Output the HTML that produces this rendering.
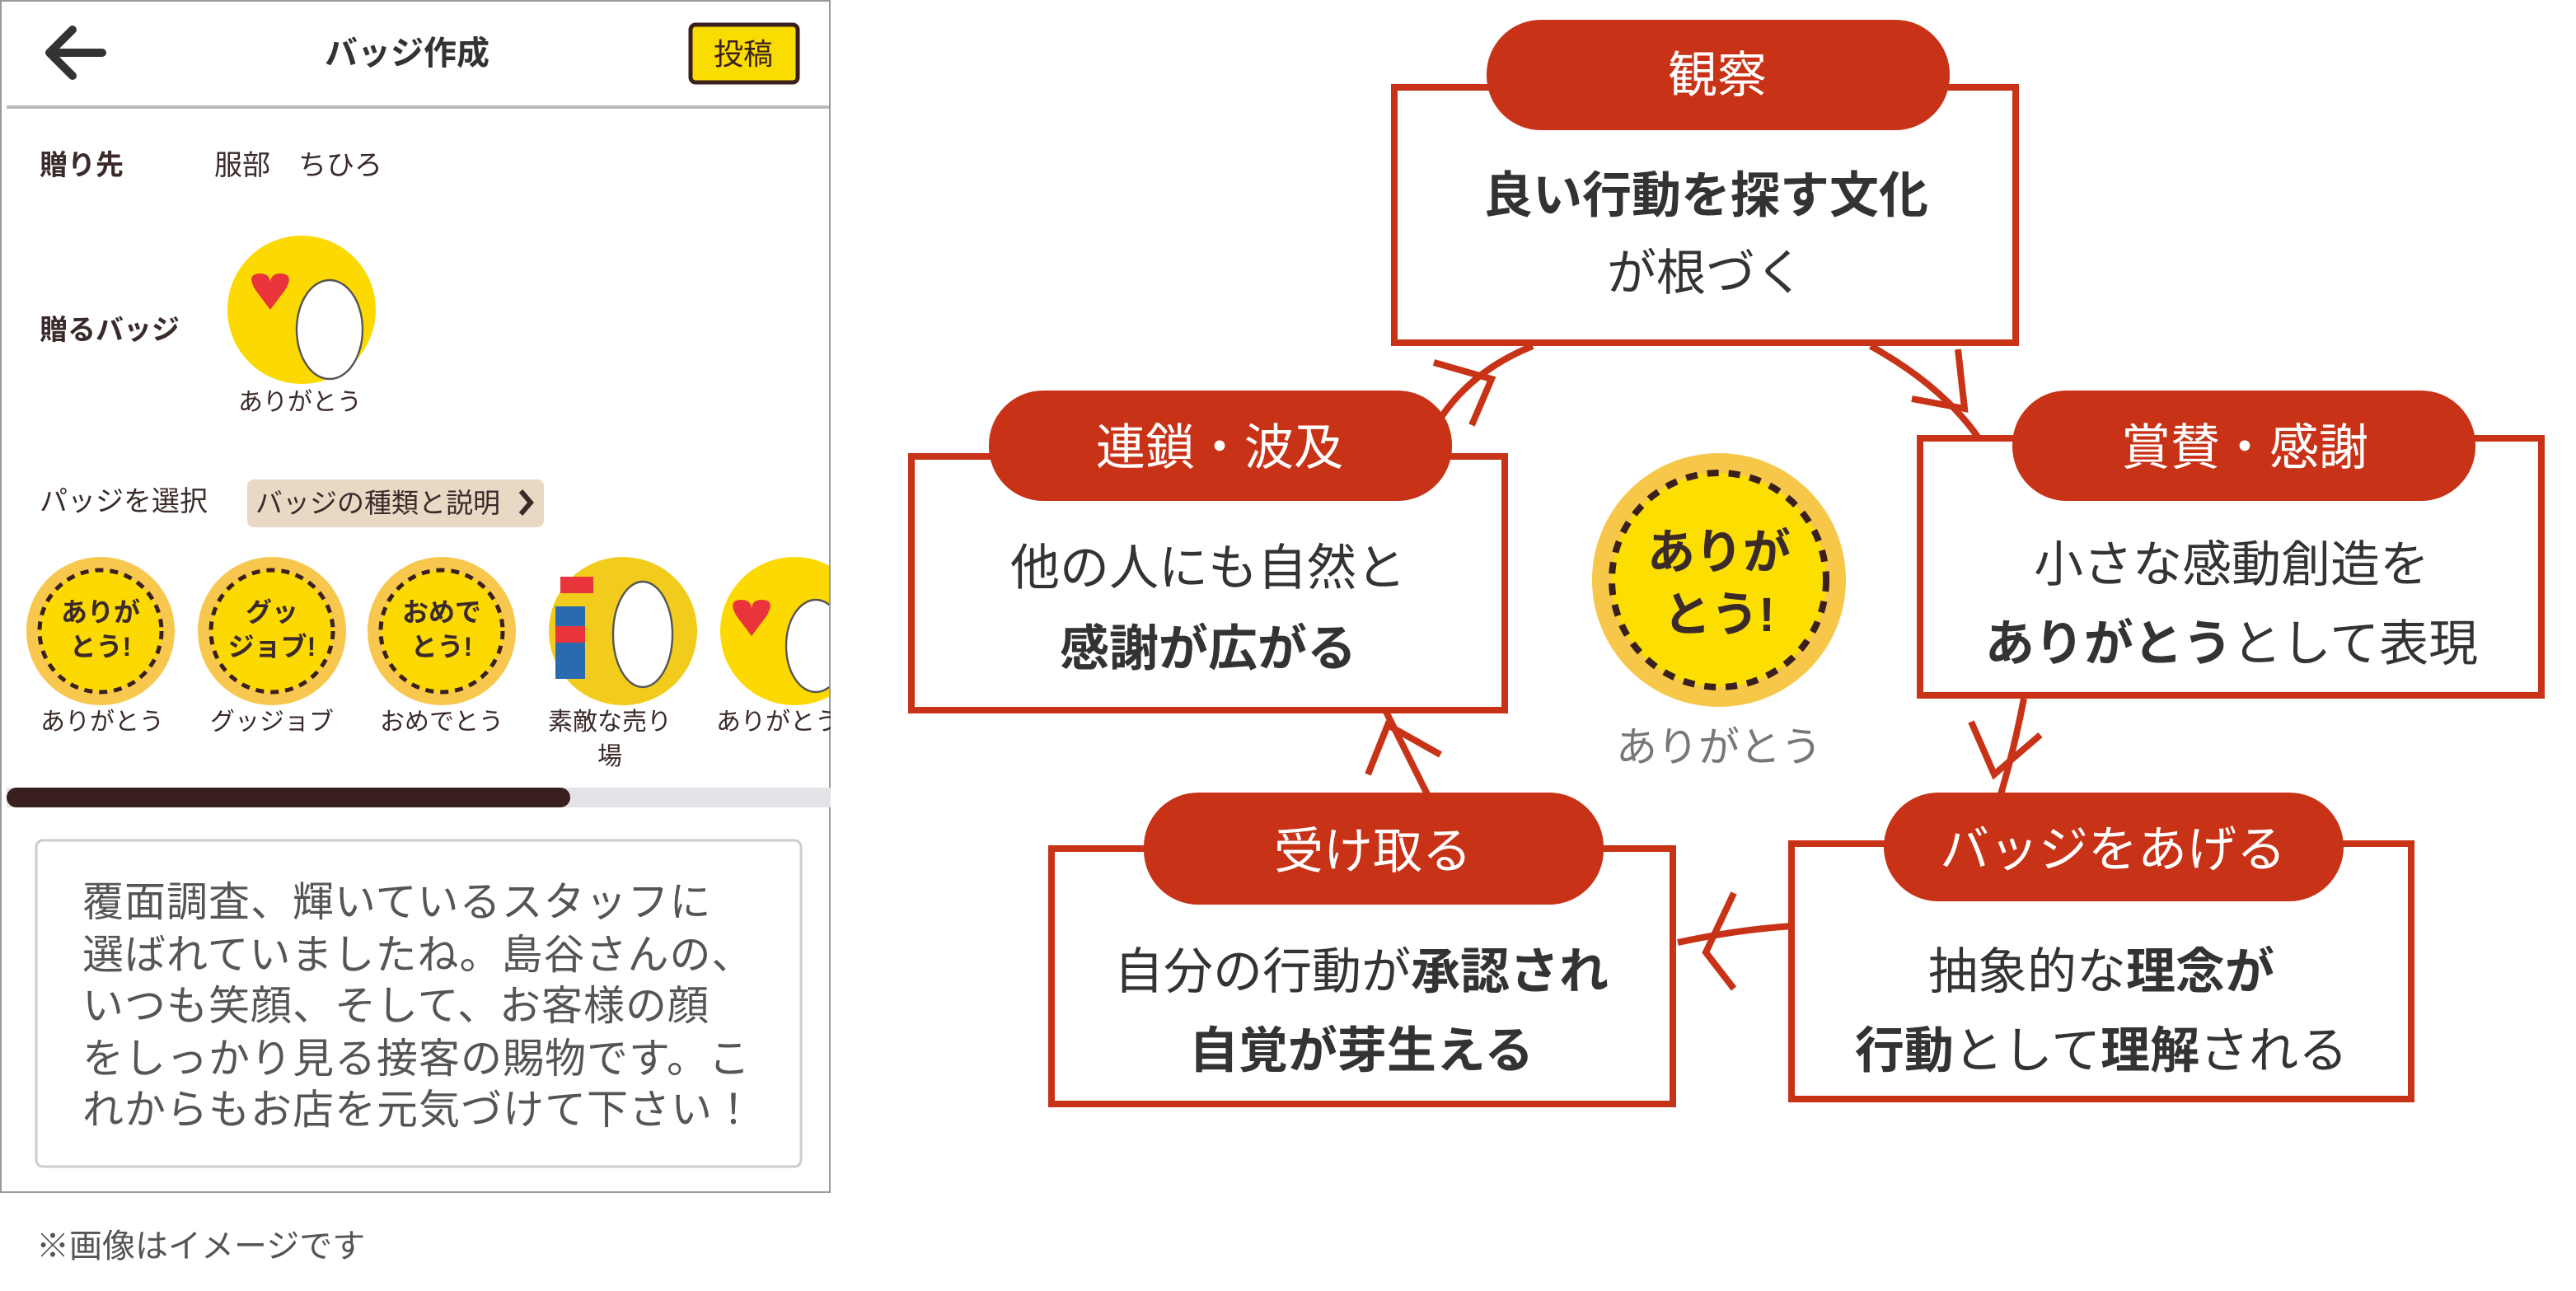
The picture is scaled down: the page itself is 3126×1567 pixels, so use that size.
<!DOCTYPE html>
<html><head><meta charset="utf-8"><style>
html,body{margin:0;padding:0;background:#fff;width:3126px;height:1567px;overflow:hidden}
svg{display:block}
text{font-family:"Liberation Sans","Noto Sans CJK JP",sans-serif}
</style></head><body>
<svg width="3126" height="1567" viewBox="0 0 1563 783.5" xmlns="http://www.w3.org/2000/svg">
<!-- phone panel -->
<rect x="0.5" y="0.5" width="503" height="723" fill="#fff" stroke="#999" stroke-width="1"/>
<path d="M62 32 H30 M44 18 L30 32 L44 46" fill="none" stroke="#333" stroke-width="5" stroke-linecap="round" stroke-linejoin="round"/>
<text x="247" y="39" font-size="20" font-weight="bold" fill="#333" text-anchor="middle">バッジ作成</text>
<rect x="419" y="15" width="65" height="35" rx="3" fill="#f9dc00" stroke="#3a1f1f" stroke-width="2.5"/>
<text x="451" y="39" font-size="18" fill="#3a1f1f" text-anchor="middle">投稿</text>
<rect x="4" y="64" width="500" height="2" fill="#bbb"/>
<text x="24" y="106" font-size="17" font-weight="bold" fill="#3a2a2a">贈り先</text>
<text x="130" y="106" font-size="17" fill="#3a2a2a">服部　ちひろ</text>
<text x="24" y="206" font-size="17" font-weight="bold" fill="#3a2a2a">贈るバッジ</text>
<circle cx="183" cy="188" r="45" fill="#fcd900"/>
<ellipse cx="200" cy="200" rx="20" ry="30" fill="#fff" stroke="#555" stroke-width="1.2"/>
<path d="M155 176 q-6 -10 3 -10 q6 0 6 6 q0 -6 6 -6 q9 0 3 10 l-9 12 z" fill="#e8343a"/>
<text x="182" y="249" font-size="15" fill="#3a2a2a" text-anchor="middle">ありがとう</text>
<text x="24" y="310" font-size="17" fill="#3a2a2a">パッジを選択</text>
<rect x="150" y="291" width="180" height="29" rx="4" fill="#e8d8c4"/>
<text x="155" y="311" font-size="16.5" fill="#3a2a2a">バッジの種類と説明</text>
<path d="M316 298 l6 7 l-6 7" fill="none" stroke="#3a2a2a" stroke-width="3"/>
<g font-weight="bold" fill="#3a2a2a" text-anchor="middle" font-size="16">
<circle cx="61" cy="383" r="45" fill="#f8c74e"/><circle cx="61" cy="383" r="37" fill="#fcd900" stroke="#3a1f1f" stroke-width="2.5" stroke-dasharray="5 4"/>
<text x="61" y="377">ありが</text><text x="61" y="398">とう!</text>
<circle cx="165" cy="383" r="45" fill="#f8c74e"/><circle cx="165" cy="383" r="37" fill="#fcd900" stroke="#3a1f1f" stroke-width="2.5" stroke-dasharray="5 4"/>
<text x="165" y="377">グッ</text><text x="165" y="398">ジョブ!</text>
<circle cx="268" cy="383" r="45" fill="#f8c74e"/><circle cx="268" cy="383" r="37" fill="#fcd900" stroke="#3a1f1f" stroke-width="2.5" stroke-dasharray="5 4"/>
<text x="268" y="377">おめで</text><text x="268" y="398">とう!</text>
</g>
<circle cx="378" cy="383" r="45" fill="#f2cc1c"/>
<ellipse cx="390" cy="385" rx="18" ry="32" fill="#fff" stroke="#555" stroke-width="1.2"/>
<rect x="337" y="368" width="18" height="44" fill="#2a6ab0"/><rect x="337" y="380" width="18" height="10" fill="#e8343a"/><rect x="340" y="350" width="20" height="10" fill="#e8343a"/>
<circle cx="482" cy="383" r="45" fill="#fcd900"/>
<ellipse cx="495" cy="392" rx="18" ry="28" fill="#fff" stroke="#555" stroke-width="1.2"/>
<path d="M447 374 q-6 -10 3 -10 q6 0 6 6 q0 -6 6 -6 q9 0 3 10 l-9 12 z" fill="#e8343a"/>
<rect x="503" y="330" width="60" height="150" fill="#fff"/>
<line x1="503.5" y1="0" x2="503.5" y2="724" stroke="#999" stroke-width="1"/>
<g font-size="15" fill="#3a2a2a" text-anchor="middle">
<text x="62" y="443">ありがとう</text><text x="165" y="443">グッジョブ</text><text x="268" y="443">おめでとう</text>
<text x="370" y="443">素敵な売り</text><text x="370" y="464">場</text><text x="472" y="443">ありがとう</text></g>
<rect x="504" y="430" width="60" height="20" fill="#fff"/>
<rect x="4" y="478" width="500" height="12" fill="#e4e4e8"/>
<rect x="4" y="478" width="342" height="12" rx="6" fill="#3a1f1f"/>
<rect x="22" y="510" width="464" height="198" rx="4" fill="#fff" stroke="#ccc" stroke-width="1.5"/>
<g font-size="25" fill="#555" letter-spacing="0.5">
<text x="50" y="556">覆面調査、輝いているスタッフに</text>
<text x="50" y="588">選ばれていましたね。島谷さんの、</text>
<text x="50" y="619">いつも笑顔、そして、お客様の顔</text>
<text x="50" y="651">をしっかり見る接客の賜物です。こ</text>
<text x="50" y="682">れからもお店を元気づけて下さい！</text></g>
<text x="22" y="763" font-size="20" fill="#555">※画像はイメージです</text>

<!-- connectors -->
<g fill="none" stroke="#c83216" stroke-width="4" stroke-linecap="butt">
<path d="M866 268 Q885 228 930 210"/><path d="M870 220 L905 230 L893 258"/>
<path d="M1135 210 Q1180 235 1202 268"/><path d="M1188 212 L1192 248 L1160 242"/>
<path d="M1228 424 Q1222 455 1214 482"/><path d="M1196 438 L1210 470 L1238 446"/>
<path d="M1088 562 Q1055 564 1018 572"/><path d="M1052 542 L1035 578 L1052 600"/>
<path d="M866 482 Q855 460 841 432"/><path d="M830 470 L842 440 L874 458"/>
</g>

<!-- boxes -->
<g fill="#fff" stroke="#c83216" stroke-width="4">
<rect x="846" y="53" width="377" height="155"/>
<rect x="553" y="277" width="360" height="154"/>
<rect x="1165" y="266" width="377" height="156"/>
<rect x="1087" y="512" width="376" height="155"/>
<rect x="638" y="515" width="377" height="155"/>
</g>
<g fill="#c83216">
<rect x="902" y="12" width="281" height="67" rx="33"/>
<rect x="600" y="237" width="281" height="67" rx="33"/>
<rect x="1221" y="237" width="281" height="67" rx="33"/>
<rect x="1143" y="481" width="279" height="66" rx="33"/>
<rect x="694" y="481" width="279" height="68" rx="33"/>
</g>
<g fill="#fff" font-size="30" text-anchor="middle">
<text x="1042" y="56">観察</text>
<text x="740" y="282">連鎖・波及</text>
<text x="1362" y="282">賞賛・感謝</text>
<text x="1282" y="526">バッジをあげる</text>
<text x="833" y="527">受け取る</text>
</g>
<g fill="#333" font-size="30" text-anchor="middle">
<text x="1035" y="129" font-weight="bold">良い行動を探す文化</text>
<text x="1035" y="176">が根づく</text>
<text x="733" y="355">他の人にも自然と</text>
<text x="733" y="404" font-weight="bold">感謝が広がる</text>
<text x="1354" y="353">小さな感動創造を</text>
<text x="1354" y="401"><tspan font-weight="bold">ありがとう</tspan>として表現</text>
<text x="1275" y="600">抽象的な<tspan font-weight="bold">理念が</tspan></text>
<text x="1275" y="648"><tspan font-weight="bold">行動</tspan>として<tspan font-weight="bold">理解</tspan>される</text>
<text x="826" y="600">自分の行動が<tspan font-weight="bold">承認され</tspan></text>
<text x="826" y="648" font-weight="bold">自覚が芽生える</text>
</g>
<!-- center badge -->
<circle cx="1043" cy="352" r="77" fill="#f7c74a"/>
<circle cx="1043" cy="352" r="65" fill="#fcdf00" stroke="#3a1f1f" stroke-width="4" stroke-dasharray="7 6"/>
<g font-weight="bold" fill="#3a2a2a" text-anchor="middle" font-size="29">
<text x="1043" y="345">ありが</text><text x="1043" y="383">とう!</text></g>
<text x="1043" y="462" font-size="25" fill="#777" text-anchor="middle">ありがとう</text>
</svg>
</body></html>
